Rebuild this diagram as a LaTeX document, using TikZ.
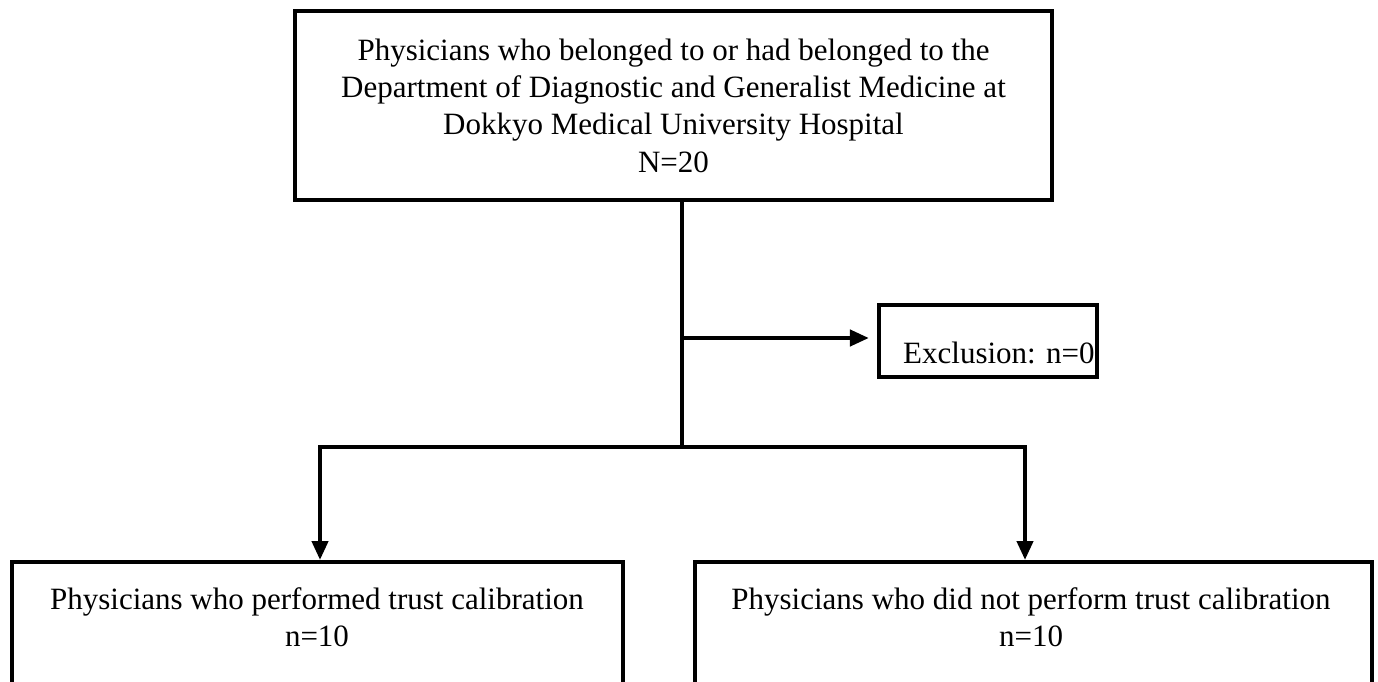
\documentclass[tikz,border=0pt]{standalone}
\usepackage{fontspec}
\setmainfont{Liberation Serif}
\usetikzlibrary{arrows.meta}
\begin{document}
\begin{tikzpicture}[x=1pt,y=-1pt,
  box/.style={draw=black,line width=4.2pt,rectangle,inner sep=0pt,fill=none},
  txt/.style={inner sep=0pt,align=center,font=\fontsize{31pt}{37.4pt}\selectfont},
  conn/.style={draw=black,line width=4.2pt},
  arr/.style={conn,-{Triangle[length=19pt,width=16pt]}}]
\useasboundingbox (0,0) rectangle (1378,682);
\clip (0,0) rectangle (1378,682);
\fill[white] (0,0) rectangle (1378,682);
% top box
\node[box,txt,minimum width=757pt,minimum height=189pt] (T) at (673.5,105.5)
  {Physicians who belonged to or had belonged to the\\Department of Diagnostic and Generalist Medicine at\\Dokkyo Medical University Hospital\\N=20};
% exclusion box
\node[box,minimum width=218pt,minimum height=72pt] (E) at (988,341) {};
\node[txt,anchor=base west] (Et) at (903,363) {Exclusion: n=0};
% bottom boxes
\node[box,minimum width=611pt,minimum height=220pt,anchor=north] (L) at (317.5,560) {};
\node[txt,anchor=north] (Lt) at (317,587) {Physicians who performed trust calibration\\n=10};
\node[box,minimum width=677pt,minimum height=220pt,anchor=north] (R) at (1033.5,560) {};
\node[txt,anchor=north] (Rt) at (1031,587) {Physicians who did not perform trust calibration\\n=10};
% junctions
\coordinate (j1) at (682,338);
\coordinate (j2) at (682,447);
\coordinate (bl) at (320,447);
\coordinate (br) at (1025,447);
% connectors
\draw[conn] (T.south -| j1) -- (j2);
\draw[arr,shorten >=8pt] (j1) -- (j1 -| E.west);
\draw[arr] (j2) -- (bl) -- (bl |- L.north);
\draw[arr] (j2) -- (br) -- (br |- R.north);
\end{tikzpicture}
\end{document}
